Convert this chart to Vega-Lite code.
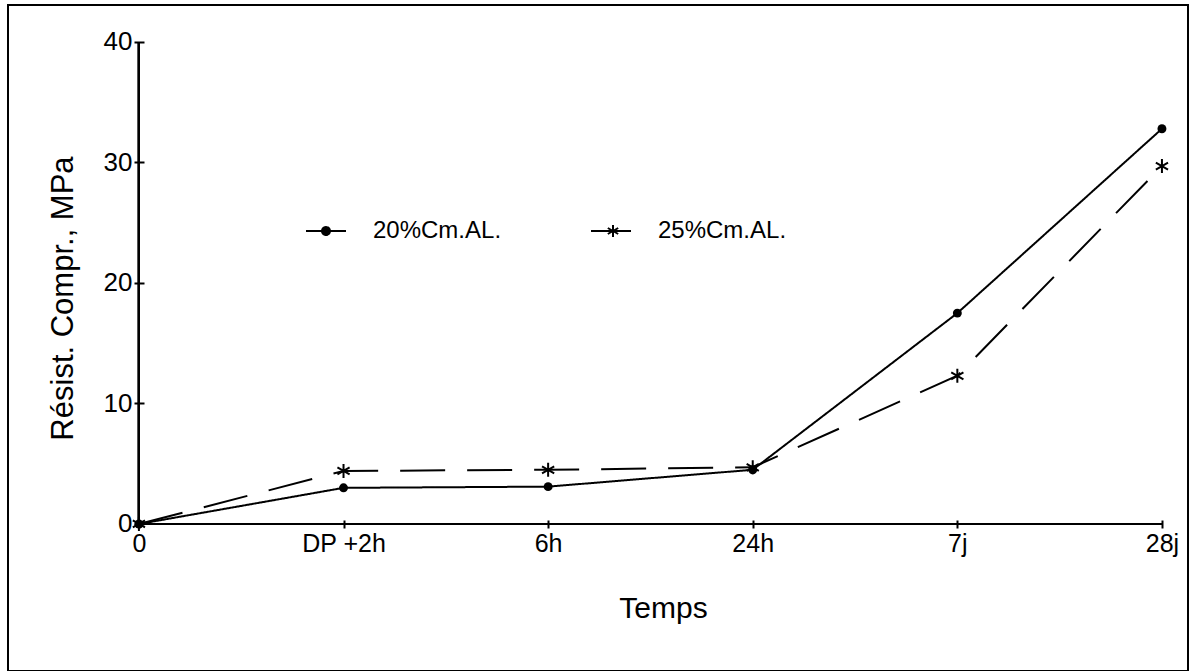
{
  "$schema": "https://vega.github.io/schema/vega-lite/v6.json",
  "width": 1180,
  "height": 666,
  "padding": {"left": 8, "top": 5, "right": 5, "bottom": 0},
  "autosize": {"type": "none"},
  "background": "white",
  "config": {
    "view": {"stroke": "black", "strokeWidth": 2},
    "font": "Liberation Sans",
    "axis": {"grid": false}
  },
  "data": {
    "values": [
      {"temps": "0", "serie": "20%Cm.AL.", "resistance": 0},
      {"temps": "DP +2h", "serie": "20%Cm.AL.", "resistance": 3.0},
      {"temps": "6h", "serie": "20%Cm.AL.", "resistance": 3.1},
      {"temps": "24h", "serie": "20%Cm.AL.", "resistance": 4.5},
      {"temps": "7j", "serie": "20%Cm.AL.", "resistance": 17.5},
      {"temps": "28j", "serie": "20%Cm.AL.", "resistance": 32.8},
      {"temps": "0", "serie": "25%Cm.AL.", "resistance": 0},
      {"temps": "DP +2h", "serie": "25%Cm.AL.", "resistance": 4.4},
      {"temps": "6h", "serie": "25%Cm.AL.", "resistance": 4.5},
      {"temps": "24h", "serie": "25%Cm.AL.", "resistance": 4.7},
      {"temps": "7j", "serie": "25%Cm.AL.", "resistance": 12.3},
      {"temps": "28j", "serie": "25%Cm.AL.", "resistance": 29.7}
    ]
  },
  "encoding": {
    "x": {
      "field": "temps",
      "type": "nominal",
      "sort": null,
      "scale": {"type": "point", "domain": ["0", "DP +2h", "6h", "24h", "7j", "28j"], "padding": 0.3836, "align": 0.834},
      "axis": {
        "orient": "bottom",
        "offset": -151,
        "domain": false,
        "tickSize": 8,
        "tickWidth": 2,
        "tickColor": "black",
        "labelAngle": 0,
        "labelFont": "Liberation Sans",
        "labelFontSize": 25,
        "labelColor": "black",
        "labelPadding": 3,
        "title": "Temps",
        "titleFont": "Liberation Sans",
        "titleFontSize": 30,
        "titleFontWeight": "normal",
        "titleColor": "black",
        "titleX": 655,
        "titleY": 97,
        "titleAlign": "center",
        "titleBaseline": "alphabetic"
      }
    },
    "y": {
      "field": "resistance",
      "type": "quantitative",
      "scale": {"domain": [-12.2, 43.07], "nice": false, "zero": false},
      "axis": {
        "offset": -136,
        "domain": false,
        "values": [0, 10, 20, 30, 40],
        "tickSize": 10,
        "tickWidth": 2,
        "tickColor": "black",
        "labelFont": "Liberation Sans",
        "labelFontSize": 26,
        "labelColor": "black",
        "labelPadding": 2,
        "title": "Résist. Compr., MPa",
        "titleFont": "Liberation Sans",
        "titleFontSize": 31,
        "titleFontWeight": "normal",
        "titleColor": "black",
        "titleAngle": 270,
        "titleX": -72,
        "titleY": 293,
        "titleAlign": "center",
        "titleBaseline": "alphabetic"
      }
    }
  },
  "layer": [
    {
      "mark": {"type": "rule", "color": "black", "strokeWidth": 2},
      "encoding": {
        "x": {"datum": "0"},
        "x2": {"datum": "28j"},
        "y": {"datum": 0}
      }
    },
    {
      "mark": {"type": "rule", "color": "black", "strokeWidth": 2},
      "encoding": {
        "x": {"datum": "0"},
        "y": {"datum": 0},
        "y2": {"datum": 40}
      }
    },
    {
      "mark": {"type": "line", "color": "black", "strokeWidth": 2},
      "encoding": {
        "strokeDash": {
          "field": "serie",
          "type": "nominal",
          "scale": {"domain": ["20%Cm.AL.", "25%Cm.AL."], "range": [[1, 0], [45, 22]]},
          "legend": {
            "orient": "none",
            "legendX": 297,
            "legendY": 205,
            "direction": "horizontal",
            "title": null,
            "padding": 0,
            "symbolSize": 1600,
            "symbolStrokeWidth": 2,
            "symbolStrokeColor": "black",
            "symbolFillColor": "black",
            "labelFont": "Liberation Sans",
            "labelFontSize": 24,
            "labelColor": "black",
            "labelOffset": 26,
            "columnPadding": 85,
            "encode": {
              "symbols": {
                "update": {
                  "shape": {"signal": "datum.value === '20%Cm.AL.' ? 'M-1,0H1M-0.2,0A0.2,0.2,0,1,1,0.2,0A0.2,0.2,0,1,1,-0.2,0Z' : 'M-1,0H1M0.1,-0.3L0.1,0.3M-0.16,-0.15L0.36,0.15M-0.16,0.15L0.36,-0.15'"},
                  "strokeDash": {"value": [1, 0]},
                  "fill": {"value": "black"},
                  "stroke": {"value": "black"},
                  "strokeWidth": {"value": 2}
                }
              }
            }
          }
        }
      }
    },
    {
      "transform": [{"filter": "datum.serie === '20%Cm.AL.'"}],
      "mark": {"type": "point", "shape": "circle", "size": 80, "filled": true, "color": "black", "opacity": 1}
    },
    {
      "transform": [{"filter": "datum.serie === '25%Cm.AL.'"}],
      "mark": {"type": "point", "shape": "M0,-1V1M-0.87,-0.5L0.87,0.5M-0.87,0.5L0.87,-0.5", "size": 196, "filled": false, "stroke": "black", "strokeWidth": 2, "opacity": 1}
    }
  ]
}
